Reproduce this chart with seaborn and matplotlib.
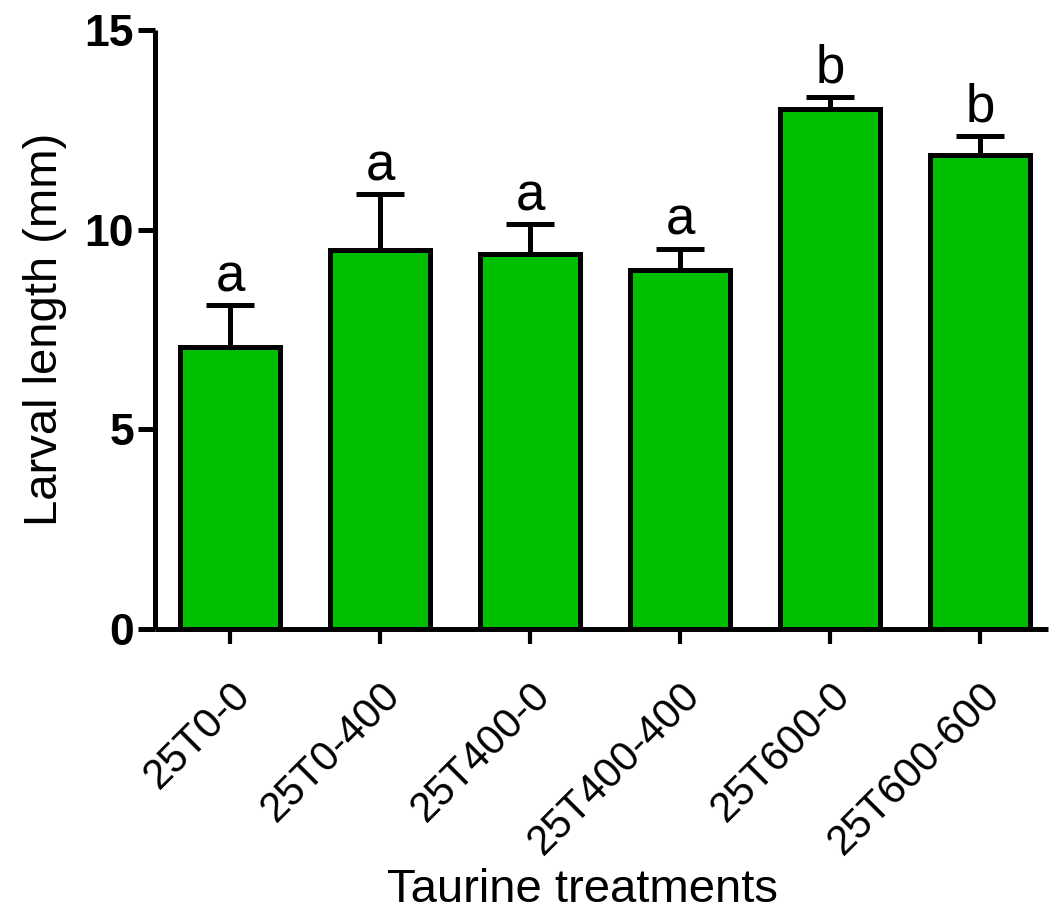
import matplotlib
matplotlib.use("Agg")
import matplotlib.pyplot as plt
import numpy as np
import pandas as pd
import seaborn as sns

# Larval length per taurine treatment: mean and upper error (mm)
treatments = ["25T0-0", "25T0-400", "25T400-0", "25T400-400", "25T600-0", "25T600-600"]
mean_length = [7.07, 9.48, 9.40, 9.00, 13.01, 11.87]
upper_error = [1.04, 1.41, 0.74, 0.52, 0.32, 0.48]
group_letters = ["a", "a", "a", "a", "b", "b"]
y_ticks = [0, 5, 10, 15]

df = pd.DataFrame({"treatment": treatments, "length": mean_length})

sns.set_style("ticks")
plt.rcParams["font.family"] = ["Liberation Sans", "DejaVu Sans"]
plt.rcParams.update({
    "text.color": "black",
    "axes.labelcolor": "black",
    "xtick.color": "black",
    "ytick.color": "black",
    "axes.edgecolor": "black",
})

LW = 3.6
GREEN = "#00BF00"

fig = plt.figure(figsize=(10.5, 9.22), dpi=100)
ax = fig.add_axes([155 / 1050, 1 - 629 / 922, (1048 - 155) / 1050, (629 - 30) / 922])

sns.barplot(data=df, x="treatment", y="length", order=treatments,
            color=GREEN, saturation=1, width=0.667, errorbar=None,
            edgecolor="black", linewidth=LW, ax=ax, zorder=2)

xpos = np.arange(len(treatments))
ax.errorbar(xpos, mean_length,
            yerr=[np.zeros(len(upper_error)), upper_error],
            fmt="none", ecolor="black", elinewidth=LW, capsize=17,
            capthick=LW, zorder=1)

for x, m, e, lab in zip(xpos, mean_length, upper_error, group_letters):
    ax.annotate(lab, xy=(x, m + e), xytext=(0, 10), textcoords="offset points",
                ha="center", va="baseline", fontsize=38, color="black")

ax.set_xlim(-0.5, 5.453)
ax.set_ylim(0, 15)
ax.set_yticks(y_ticks)
ax.set_yticklabels([str(t) for t in y_ticks], fontsize=32, fontweight="bold")
ax.set_xticks(xpos)
ax.set_xticklabels(treatments, fontsize=30, rotation=45,
                   ha="right", va="top", rotation_mode="anchor")

ax.tick_params(axis="y", direction="out", length=12, width=LW, pad=3, color="black")
ax.tick_params(axis="x", direction="out", length=11, width=3, pad=22, color="black")

sns.despine(ax=ax)
for side in ("left", "bottom"):
    ax.spines[side].set_linewidth(LW)
    ax.spines[side].set_color("black")
    ax.spines[side].set_capstyle("butt")

ax.set_ylabel("Larval length (mm)", fontsize=34)
ax.set_xlabel("Taurine treatments", fontsize=34)
ax.yaxis.set_label_coords(-0.099, 0.5)
ax.xaxis.set_label_coords(0.479, -0.399)

fig.savefig("out.png", dpi=100, facecolor="white")
